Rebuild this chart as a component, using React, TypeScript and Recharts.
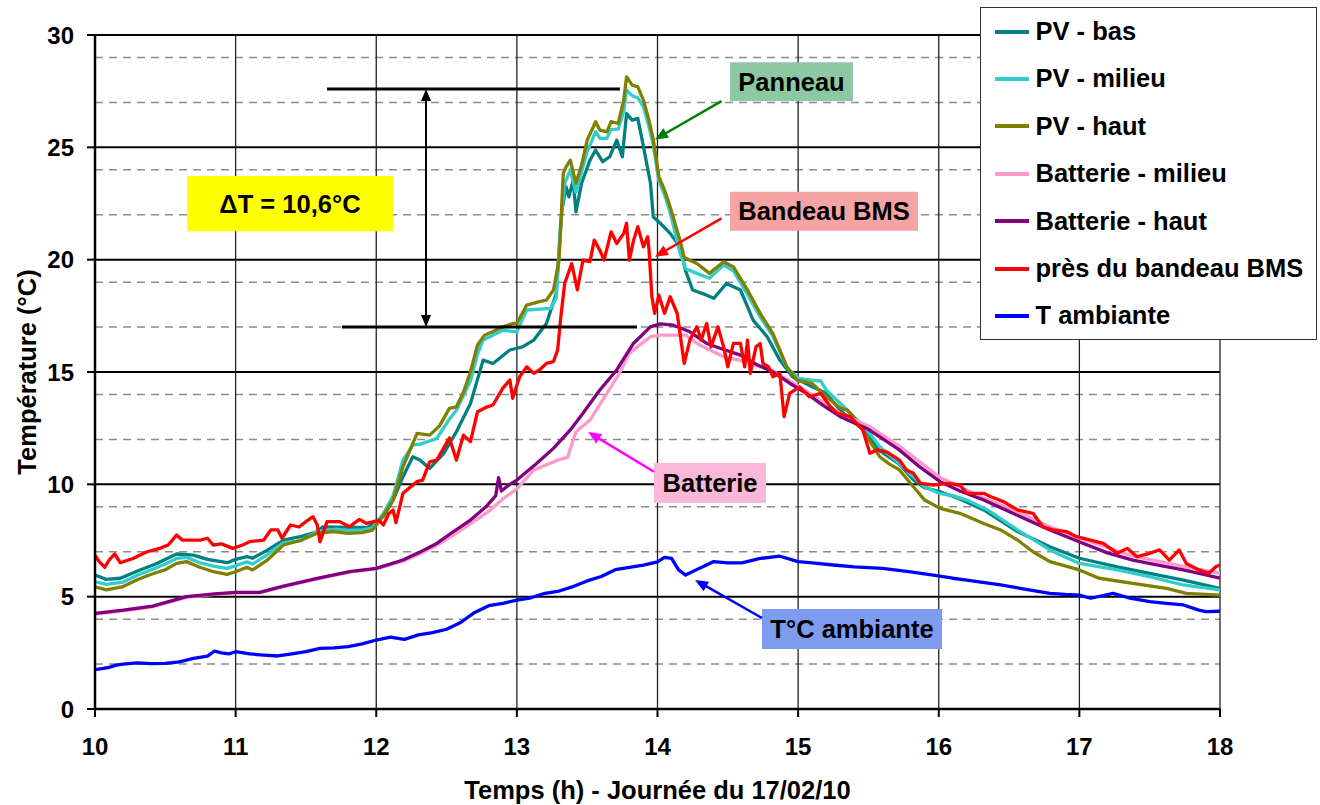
import React from 'react';
import {
  LineChart, Line, XAxis, YAxis, CartesianGrid, Legend, ReferenceLine, ReferenceArea,
} from 'recharts';

const FONT = '"Liberation Sans", Arial, Helvetica, sans-serif';

// ---------- axis ticks ----------
const hourTicks = [10, 11, 12, 13, 14, 15, 16, 17, 18];
const tempTicks = [0, 5, 10, 15, 20, 25, 30];
const minorTemps = [1, 2, 3, 4, 6, 7, 8, 9, 11, 12, 13, 14, 16, 17, 18, 19, 21, 22, 23, 24, 26, 27, 28, 29];
const majorTemps = [5, 10, 15, 20, 25, 30];

// ---------- series (hour, °C) ----------
const pvBas: [number, number][] = [
  [10.0, 5.96], [10.08, 5.77], [10.18, 5.82], [10.32, 6.19], [10.44, 6.48], [10.58, 6.9], [10.7, 6.85], [10.8, 6.66],
  [10.94, 6.51], [11.0, 6.66], [11.08, 6.78], [11.12, 6.71], [11.22, 7.05], [11.34, 7.52], [11.46, 7.67], [11.58, 7.89],
  [11.62, 8.11], [11.81, 8.08], [11.94, 8.08], [12.05, 8.56], [12.12, 9.3], [12.19, 10.34], [12.26, 11.23], [12.31, 11.08],
  [12.38, 10.71], [12.48, 11.38], [12.57, 12.34], [12.67, 13.6], [12.76, 15.53], [12.83, 15.38], [12.95, 15.98], [13.04, 16.12],
  [13.12, 16.42], [13.21, 17.16], [13.28, 18.5], [13.32, 22.2], [13.35, 23.24], [13.37, 22.8], [13.4, 23.54], [13.42, 22.13],
  [13.46, 23.4], [13.52, 24.43], [13.56, 24.88], [13.61, 24.36], [13.66, 24.58], [13.71, 25.32], [13.75, 24.58], [13.78, 26.5],
  [13.82, 26.21], [13.86, 26.29], [13.9, 25.03], [13.95, 23.4], [13.97, 21.9], [14.02, 21.62], [14.09, 21.17], [14.16, 20.57],
  [14.2, 19.5], [14.25, 18.65], [14.35, 18.42], [14.4, 18.28], [14.49, 18.94], [14.59, 18.65], [14.68, 17.31], [14.78, 16.57],
  [14.87, 15.53], [14.96, 14.79], [15.1, 14.34], [15.2, 14.05], [15.3, 13.3], [15.37, 12.9], [15.49, 12.3], [15.58, 11.5],
  [15.72, 10.9], [15.82, 10.2], [15.9, 9.85], [16.01, 9.67], [16.15, 9.35], [16.32, 8.86], [16.56, 7.9], [16.79, 7.22],
  [17.0, 6.71], [17.27, 6.33], [17.5, 6.04], [17.74, 5.74], [18.0, 5.37],
];

const pvMilieu: [number, number][] = [
  [10.0, 5.67], [10.08, 5.55], [10.2, 5.65], [10.3, 5.95], [10.4, 6.2], [10.5, 6.45], [10.58, 6.7], [10.65, 6.75],
  [10.75, 6.5], [10.85, 6.35], [10.94, 6.26], [11.0, 6.38], [11.08, 6.55], [11.12, 6.45], [11.22, 6.85], [11.34, 7.4],
  [11.46, 7.48], [11.58, 7.9], [11.7, 8.0], [11.8, 7.95], [11.9, 7.97], [11.97, 8.05], [12.05, 8.7], [12.12, 9.5],
  [12.19, 11.08], [12.26, 11.75], [12.32, 11.8], [12.43, 12.04], [12.52, 12.9], [12.57, 13.3], [12.67, 14.6], [12.72, 15.8],
  [12.76, 16.42], [12.9, 16.86], [13.0, 16.79], [13.07, 17.76], [13.24, 17.83], [13.28, 18.3], [13.31, 21.5], [13.34, 23.4],
  [13.38, 24.0], [13.42, 23.0], [13.46, 23.9], [13.5, 24.8], [13.56, 25.7], [13.59, 25.4], [13.64, 25.4], [13.67, 25.8],
  [13.72, 25.8], [13.76, 26.6], [13.78, 27.55], [13.82, 27.3], [13.86, 27.2], [13.9, 26.8], [13.94, 25.9], [13.97, 25.1],
  [14.01, 23.5], [14.05, 22.9], [14.09, 22.1], [14.16, 20.3], [14.2, 19.6], [14.28, 19.39], [14.37, 19.17], [14.47, 19.76],
  [14.54, 19.5], [14.64, 18.45], [14.73, 17.45], [14.82, 16.6], [14.87, 15.9], [14.92, 15.2], [15.0, 14.72], [15.1, 14.64],
  [15.16, 14.6], [15.2, 14.2], [15.35, 13.3], [15.49, 12.42], [15.58, 11.67], [15.72, 10.93], [15.82, 10.34], [15.9, 9.89],
  [16.0, 9.6], [16.1, 9.5], [16.2, 9.3], [16.35, 8.85], [16.56, 7.97], [16.79, 7.08], [17.0, 6.48], [17.27, 6.19],
  [17.5, 5.89], [17.74, 5.52], [18.0, 5.3],
];

const pvHaut: [number, number][] = [
  [10.0, 5.44], [10.08, 5.3], [10.2, 5.45], [10.3, 5.75], [10.4, 6.0], [10.5, 6.2], [10.58, 6.48], [10.65, 6.56],
  [10.75, 6.3], [10.85, 6.1], [10.94, 5.99], [11.0, 6.11], [11.08, 6.31], [11.12, 6.19], [11.22, 6.6], [11.34, 7.3],
  [11.46, 7.5], [11.58, 7.82], [11.7, 7.9], [11.8, 7.82], [11.9, 7.85], [11.97, 7.95], [12.05, 8.6], [12.12, 9.3],
  [12.19, 10.78], [12.29, 12.27], [12.38, 12.19], [12.45, 12.6], [12.52, 13.38], [12.57, 13.45], [12.62, 14.1], [12.67, 15.01],
  [12.72, 16.2], [12.77, 16.64], [12.83, 16.8], [12.9, 17.01], [12.97, 17.16], [13.0, 17.16], [13.07, 17.98], [13.16, 18.13],
  [13.21, 18.2], [13.26, 18.65], [13.3, 19.98], [13.33, 23.84], [13.35, 24.13], [13.38, 24.43], [13.42, 23.4], [13.46, 24.21],
  [13.5, 25.32], [13.56, 26.14], [13.59, 25.77], [13.64, 25.69], [13.67, 26.14], [13.72, 26.06], [13.76, 27.1], [13.78, 28.14],
  [13.82, 27.77], [13.86, 27.69], [13.9, 27.1], [13.94, 26.2], [13.97, 25.35], [14.01, 23.7], [14.05, 23.1], [14.09, 22.35],
  [14.16, 20.87], [14.19, 20.1], [14.28, 19.83], [14.37, 19.39], [14.47, 19.91], [14.54, 19.68], [14.64, 18.65], [14.73, 17.61],
  [14.82, 16.72], [14.87, 15.98], [14.92, 15.23], [14.99, 14.64], [15.1, 14.49], [15.2, 13.9], [15.3, 13.4], [15.35, 13.3],
  [15.42, 12.8], [15.49, 12.12], [15.58, 11.23], [15.65, 10.9], [15.72, 10.64], [15.82, 9.89], [15.9, 9.3], [16.01, 8.93],
  [16.15, 8.71], [16.32, 8.26], [16.44, 7.97], [16.56, 7.52], [16.67, 7.0], [16.79, 6.56], [17.0, 6.19], [17.14, 5.82],
  [17.38, 5.59], [17.62, 5.37], [17.76, 5.15], [18.0, 5.07],
];

const batterieMilieu: [number, number][] = [
  [10.0, 4.22], [10.2, 4.37], [10.41, 4.55], [10.65, 4.97], [10.85, 5.1], [11.0, 5.17], [11.17, 5.17], [11.34, 5.45],
  [11.58, 5.79], [11.81, 6.09], [12.0, 6.24], [12.19, 6.58], [12.3, 6.88], [12.43, 7.28], [12.55, 7.75], [12.67, 8.25],
  [12.8, 8.8], [12.9, 9.35], [13.0, 9.8], [13.12, 10.64], [13.3, 11.1], [13.36, 11.2], [13.42, 12.34], [13.52, 12.86],
  [13.64, 14.05], [13.73, 14.95], [13.8, 15.84], [13.95, 16.57], [14.02, 16.64], [14.2, 16.64], [14.3, 16.2], [14.47, 15.68],
  [14.6, 15.5], [14.82, 15.05], [15.06, 14.15], [15.3, 13.15], [15.5, 12.6], [15.72, 11.7], [16.01, 10.3], [16.3, 9.45],
  [16.55, 8.8], [16.79, 8.11], [17.03, 7.55], [17.38, 6.8], [17.74, 6.35], [18.0, 6.04],
];

const batterieHaut: [number, number][] = [
  [10.0, 4.26], [10.2, 4.4], [10.41, 4.58], [10.65, 5.0], [10.85, 5.12], [11.0, 5.19], [11.17, 5.19], [11.34, 5.47],
  [11.58, 5.81], [11.81, 6.11], [12.0, 6.26], [12.19, 6.63], [12.3, 6.95], [12.43, 7.37], [12.55, 7.9], [12.67, 8.41],
  [12.78, 9.0], [12.85, 9.5], [12.87, 10.3], [12.89, 9.7], [12.95, 10.0], [13.0, 10.19], [13.14, 10.93], [13.26, 11.6],
  [13.38, 12.42], [13.47, 13.16], [13.59, 14.2], [13.71, 15.09], [13.83, 16.28], [13.95, 17.01], [14.02, 17.14], [14.11, 17.09],
  [14.23, 16.79], [14.35, 16.27], [14.47, 16.0], [14.59, 15.75], [14.7, 15.35], [14.82, 15.01], [14.94, 14.5], [15.06, 14.05],
  [15.18, 13.5], [15.3, 13.01], [15.5, 12.45], [15.72, 11.53], [15.86, 10.8], [16.01, 10.12], [16.15, 9.7], [16.32, 9.3],
  [16.55, 8.65], [16.79, 7.97], [17.03, 7.37], [17.2, 6.95], [17.38, 6.63], [17.56, 6.4], [17.74, 6.19], [17.9, 5.97],
  [18.0, 5.82],
];

const presBandeauBMS: [number, number][] = [
  [10.0, 6.85], [10.03, 6.56], [10.07, 6.31], [10.1, 6.63], [10.14, 6.9], [10.18, 6.51], [10.27, 6.7], [10.37, 7.0],
  [10.46, 7.15], [10.52, 7.3], [10.58, 7.74], [10.62, 7.52], [10.75, 7.52], [10.8, 7.6], [10.84, 7.3], [10.9, 7.35],
  [10.98, 7.15], [11.05, 7.3], [11.1, 7.45], [11.2, 7.52], [11.25, 7.97], [11.3, 7.97], [11.33, 7.6], [11.39, 8.19],
  [11.45, 8.1], [11.5, 8.34], [11.55, 8.56], [11.58, 8.2], [11.6, 7.45], [11.65, 8.34], [11.74, 8.34], [11.81, 8.11],
  [11.88, 8.44], [11.93, 8.26], [11.98, 8.34], [12.02, 8.4], [12.05, 8.19], [12.09, 8.7], [12.12, 8.86], [12.14, 8.3],
  [12.19, 9.6], [12.29, 10.12], [12.33, 10.19], [12.38, 11.0], [12.43, 11.08], [12.52, 12.06], [12.57, 11.08], [12.62, 12.19],
  [12.67, 11.9], [12.72, 13.23], [12.79, 13.45], [12.83, 13.53], [12.9, 14.28], [12.95, 14.64], [12.97, 13.83], [13.02, 14.79],
  [13.07, 15.23], [13.12, 14.94], [13.16, 15.09], [13.21, 15.38], [13.26, 15.46], [13.29, 15.98], [13.31, 17.31], [13.34, 18.94],
  [13.39, 19.83], [13.43, 18.65], [13.47, 19.98], [13.52, 19.91], [13.55, 20.87], [13.59, 20.42], [13.62, 19.98], [13.67, 21.24],
  [13.71, 20.72], [13.76, 21.17], [13.78, 21.62], [13.8, 19.98], [13.83, 20.87], [13.86, 21.47], [13.9, 20.57], [13.93, 21.02],
  [13.94, 20.42], [13.96, 18.35], [13.98, 17.61], [14.01, 18.42], [14.05, 17.61], [14.09, 18.35], [14.14, 17.61], [14.16, 16.72],
  [14.19, 15.38], [14.23, 16.42], [14.28, 17.01], [14.31, 16.42], [14.35, 17.16], [14.38, 16.12], [14.43, 17.01], [14.47, 16.12],
  [14.5, 15.23], [14.54, 16.27], [14.59, 16.27], [14.62, 15.23], [14.64, 16.42], [14.66, 14.94], [14.7, 16.12], [14.73, 16.27],
  [14.75, 15.38], [14.79, 15.23], [14.82, 14.79], [14.87, 14.94], [14.9, 13.01], [14.94, 14.05], [15.01, 14.34], [15.08, 13.9],
  [15.16, 14.05], [15.23, 13.45], [15.28, 13.16], [15.37, 13.01], [15.46, 12.42], [15.51, 11.38], [15.56, 11.53], [15.63, 11.45],
  [15.72, 11.08], [15.77, 10.64], [15.82, 10.49], [15.87, 10.04], [15.96, 9.97], [16.06, 10.04], [16.15, 9.97], [16.2, 9.6],
  [16.32, 9.6], [16.37, 9.45], [16.46, 9.23], [16.56, 8.86], [16.67, 8.71], [16.74, 8.11], [16.81, 7.97], [16.91, 7.89],
  [16.98, 7.67], [17.08, 7.52], [17.17, 7.37], [17.27, 6.93], [17.34, 7.15], [17.41, 6.78], [17.5, 6.93], [17.57, 7.08],
  [17.64, 6.63], [17.71, 7.08], [17.76, 6.48], [17.85, 6.19], [17.92, 6.04], [17.97, 6.33], [18.0, 6.41],
];

const tAmbiante: [number, number][] = [
  [10.0, 1.75], [10.05, 1.8], [10.1, 1.85], [10.15, 1.95], [10.2, 2.0], [10.3, 2.05], [10.4, 2.02], [10.5, 2.03],
  [10.6, 2.1], [10.7, 2.25], [10.8, 2.35], [10.85, 2.58], [10.9, 2.5], [10.95, 2.45], [11.0, 2.55], [11.1, 2.45],
  [11.2, 2.4], [11.3, 2.36], [11.4, 2.45], [11.5, 2.55], [11.6, 2.7], [11.7, 2.72], [11.8, 2.78], [11.9, 2.9],
  [12.0, 3.07], [12.1, 3.2], [12.2, 3.1], [12.3, 3.3], [12.4, 3.4], [12.5, 3.55], [12.6, 3.85], [12.7, 4.3],
  [12.8, 4.6], [12.9, 4.7], [13.0, 4.85], [13.1, 4.95], [13.2, 5.15], [13.3, 5.25], [13.4, 5.45], [13.5, 5.7],
  [13.6, 5.9], [13.7, 6.2], [13.8, 6.3], [13.9, 6.4], [14.0, 6.55], [14.05, 6.75], [14.1, 6.7], [14.15, 6.19],
  [14.2, 5.96], [14.3, 6.27], [14.4, 6.56], [14.5, 6.5], [14.6, 6.5], [14.73, 6.7], [14.87, 6.8], [15.0, 6.56],
  [15.1, 6.5], [15.25, 6.41], [15.4, 6.33], [15.6, 6.26], [15.8, 6.1], [15.96, 5.96], [16.1, 5.82], [16.2, 5.74],
  [16.3, 5.65], [16.44, 5.52], [16.6, 5.35], [16.79, 5.15], [16.9, 5.1], [17.0, 5.07], [17.08, 4.93], [17.24, 5.15],
  [17.35, 4.95], [17.5, 4.78], [17.62, 4.7], [17.74, 4.63], [17.85, 4.4], [17.9, 4.33], [18.0, 4.35],
];

// ---------- annotations (data coordinates) ----------
const deltaTop = 27.6;
const deltaBottom = 17.0;
const deltaX = 12.354;
const deltaTopX: [number, number] = [11.65, 13.733];
const deltaBottomX: [number, number] = [11.756, 13.854];

const boxes = [
  { text: 'ΔT = 10,6°C', x1: 10.654, x2: 12.119, y1: 21.27, y2: 23.72, fill: '#FFFF00' },
  { text: 'Panneau', x1: 14.516, x2: 15.39, y1: 27.06, y2: 28.79, fill: '#8CC9A3' },
  { text: 'Bandeau BMS', x1: 14.516, x2: 15.852, y1: 21.29, y2: 23.02, fill: '#F5A3A3' },
  { text: 'Batterie', x1: 13.975, x2: 14.772, y1: 9.17, y2: 10.95, fill: '#F9B7D9' },
  { text: 'T°C ambiante', x1: 14.743, x2: 16.023, y1: 2.67, y2: 4.45, fill: '#7D9CEF' },
];

const arrows = [
  { from: { x: 14.455, y: 27.06 }, to: { x: 13.982, y: 25.35 }, color: '#008000' },
  { from: { x: 14.455, y: 21.84 }, to: { x: 13.982, y: 20.13 }, color: '#FF0000' },
  { from: { x: 13.975, y: 10.56 }, to: { x: 13.506, y: 12.33 }, color: '#FF00FF' },
  { from: { x: 14.743, y: 4.05 }, to: { x: 14.267, y: 5.74 }, color: '#0000FF' },
];

const seriesDefs = [
  { name: 'PV - bas', data: pvBas, color: '#008080' },
  { name: 'PV - milieu', data: pvMilieu, color: '#33CCCC' },
  { name: 'PV - haut', data: pvHaut, color: '#808000' },
  { name: 'Batterie - milieu', data: batterieMilieu, color: '#FF99CC' },
  { name: 'Batterie - haut', data: batterieHaut, color: '#800080' },
  { name: 'près du bandeau BMS', data: presBandeauBMS, color: '#FF0000' },
  { name: 'T ambiante', data: tAmbiante, color: '#0000FF' },
];

const toRows = (pts: [number, number][]) => pts.map(([h, v]) => ({ h, v }));

function arrowHead(x: number, y: number, ang: number, len: number, half: number) {
  const bx = x - len * Math.cos(ang);
  const by = y - len * Math.sin(ang);
  const px = -Math.sin(ang) * half;
  const py = Math.cos(ang) * half;
  return `${x},${y} ${bx + px},${by + py} ${bx - px},${by - py}`;
}

function makeArrow(color: string, width: number, len: number, half: number, both: boolean) {
  return (p: any) => {
    const { x1, y1, x2, y2 } = p;
    if ([x1, y1, x2, y2].some((v) => typeof v !== 'number' || isNaN(v))) return <g />;
    const ang = Math.atan2(y2 - y1, x2 - x1);
    const ex = x2 - (len - 1) * Math.cos(ang);
    const ey = y2 - (len - 1) * Math.sin(ang);
    const sx = both ? x1 + (len - 1) * Math.cos(ang) : x1;
    const sy = both ? y1 + (len - 1) * Math.sin(ang) : y1;
    return (
      <g>
        <line x1={sx} y1={sy} x2={ex} y2={ey} stroke={color} strokeWidth={width} />
        <polygon points={arrowHead(x2, y2, ang, len, half)} fill={color} />
        {both && <polygon points={arrowHead(x1, y1, ang + Math.PI, len, half)} fill={color} />}
      </g>
    );
  };
}

const legendOrder = seriesDefs.map((s) => s.name);

function LegendBox(props: any) {
  const payload: any[] = props.payload || [];
  const items = legendOrder.map((n) => {
    const p = payload.find((e) => e.value === n);
    const d = seriesDefs.find((s) => s.name === n)!;
    return { name: n, color: p ? p.color : d.color };
  });
  return (
    <div
      style={{
        width: 337, height: 333, boxSizing: 'border-box', border: '1.5px solid #333', background: '#fff',
        fontFamily: FONT, fontWeight: 700, fontSize: 25.5, color: '#000',
      }}
    >
      {items.map((it) => (
        <div key={it.name} style={{ height: 47.4, display: 'flex', alignItems: 'center' }}>
          <div style={{ marginLeft: 13.5, width: 34, height: 4, background: it.color }} />
          <span style={{ marginLeft: 7, whiteSpace: 'nowrap', lineHeight: 1 }}>{it.name}</span>
        </div>
      ))}
    </div>
  );
}

export default function App() {
  return (
    <div style={{ position: 'absolute', left: 0, top: 0, width: 1320, height: 805, background: '#fff' }}>
      <LineChart width={1320} height={805} margin={{ top: 35, right: 100, bottom: 36, left: 35 }}>
        <CartesianGrid horizontal vertical={false} horizontalValues={minorTemps} stroke="#8c8c8c" strokeDasharray="8 6" strokeWidth={1.5} />
        <CartesianGrid horizontal vertical={false} horizontalValues={majorTemps} stroke="#000" strokeWidth={2} />
        <CartesianGrid horizontal={false} vertical verticalValues={hourTicks} stroke="#222" strokeWidth={1.3} />
        <XAxis
          type="number" dataKey="h" domain={[10, 18]} ticks={hourTicks} allowDataOverflow height={60}
          axisLine={{ stroke: '#000', strokeWidth: 2.5 }} tickLine={{ stroke: '#000', strokeWidth: 2 }}
          tickSize={8} tickMargin={21}
          tick={{ fill: '#000', fontSize: 24, fontWeight: 700, fontFamily: FONT }}
          label={{
            value: 'Temps (h) - Journée du 17/02/10',
            content: (p: any) => {
              const vb = p.viewBox || { x: 95, y: 709, width: 1125, height: 60 };
              return (
                <text x={vb.x + vb.width / 2} y={vb.y + 90} textAnchor="middle" fontFamily={FONT} fontWeight={700} fontSize={25.5} fill="#000">
                  Temps (h) - Journée du 17/02/10
                </text>
              );
            },
          }}
        />
        <YAxis
          type="number" domain={[0, 30]} ticks={tempTicks} allowDataOverflow width={60}
          axisLine={{ stroke: '#000', strokeWidth: 2.5 }} tickLine={{ stroke: '#000', strokeWidth: 2 }}
          tickSize={8} tickMargin={13}
          tick={{ fill: '#000', fontSize: 24, fontWeight: 700, fontFamily: FONT }}
          label={{
            value: 'Température (°C)',
            content: (p: any) => {
              const vb = p.viewBox || { x: 35, y: 35, width: 60, height: 674 };
              const cx = vb.x - 8;
              const cy = vb.y + vb.height / 2;
              return (
                <text x={cx} y={cy} transform={`rotate(-90 ${cx} ${cy})`} textAnchor="middle" dominantBaseline="central"
                  fontFamily={FONT} fontWeight={700} fontSize={25.5} fill="#000">
                  Température (°C)
                </text>
              );
            },
          }}
        />
        {seriesDefs.map((s) => (
          <Line
            key={s.name} name={s.name} data={toRows(s.data)} dataKey="v" type="linear" stroke={s.color}
            strokeWidth={3.3} dot={false} activeDot={false} isAnimationActive={false} strokeLinejoin="round"
          />
        ))}
        <ReferenceLine segment={[{ x: deltaTopX[0], y: deltaTop }, { x: deltaTopX[1], y: deltaTop }]} stroke="#000" strokeWidth={3} />
        <ReferenceLine segment={[{ x: deltaBottomX[0], y: deltaBottom }, { x: deltaBottomX[1], y: deltaBottom }]} stroke="#000" strokeWidth={3} />
        <ReferenceLine
          segment={[{ x: deltaX, y: deltaTop }, { x: deltaX, y: deltaBottom }]}
          shape={makeArrow('#000', 2, 12, 5, true)}
        />
        {arrows.map((a, i) => (
          <ReferenceLine key={'arr' + i} segment={[a.from, a.to]} shape={makeArrow(a.color, 2.5, 13, 5.5, false)} />
        ))}
        {boxes.map((b) => (
          <ReferenceArea
            key={b.text} x1={b.x1} x2={b.x2} y1={b.y1} y2={b.y2} fill={b.fill} fillOpacity={1} stroke="none"
            label={{ value: b.text, position: 'center', fill: '#000', fontSize: 25.5, fontWeight: 700, fontFamily: FONT }}
          />
        ))}
        <Legend
          layout="vertical" align="center" verticalAlign="middle"
          wrapperStyle={{ left: 980, top: 7, width: 337, height: 333 }}
          content={(p: any) => <LegendBox {...p} />}
        />
      </LineChart>
    </div>
  );
}
